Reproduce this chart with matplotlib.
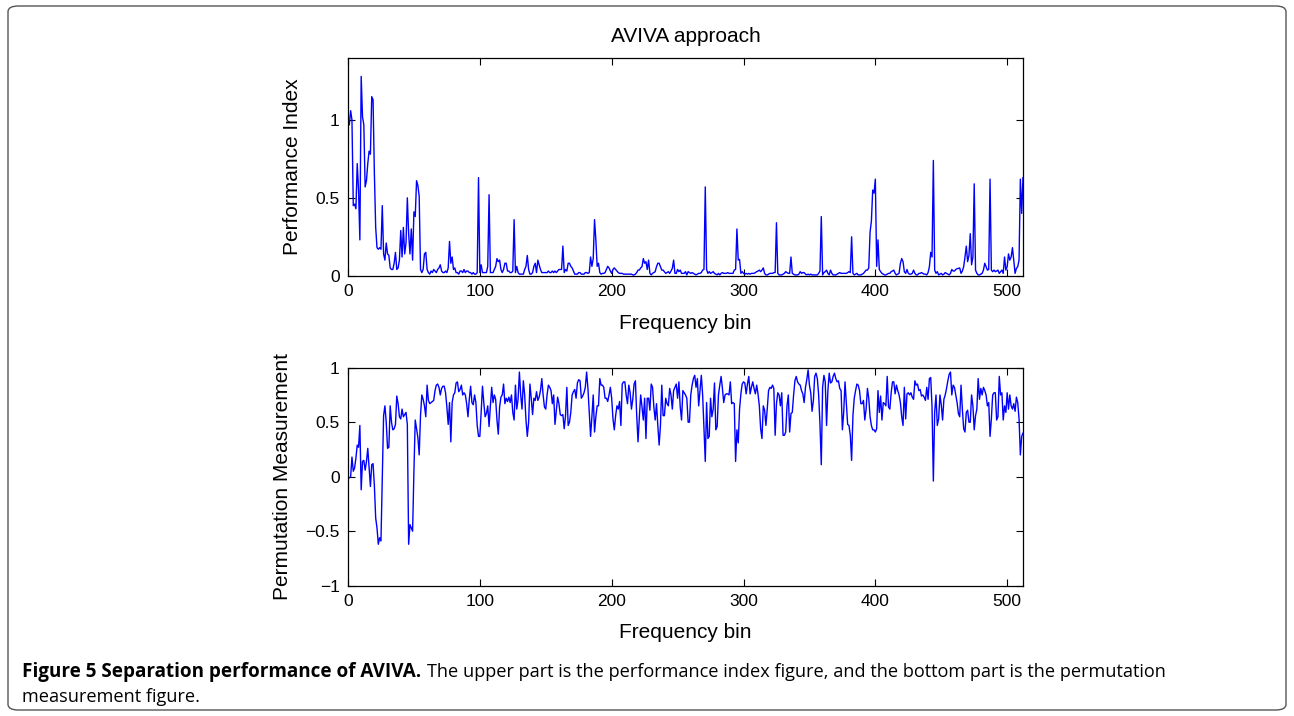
import matplotlib
matplotlib.use("Agg")
import matplotlib.pyplot as plt
from matplotlib.patches import FancyBboxPatch
import numpy as np

# Frequency bins 1..512
bins = np.arange(1, 513)

# Performance index per frequency bin
performance_index = [
    0.97, 1.06, 1.00, 0.45, 0.46, 0.43, 0.72, 0.55, 0.23, 1.28,
    1.02, 0.97, 0.57, 0.61, 0.72, 0.80, 0.78, 1.15, 1.13, 0.66,
    0.31, 0.18, 0.17, 0.18, 0.17, 0.45, 0.14, 0.10, 0.21, 0.14,
    0.13, 0.05, 0.04, 0.04, 0.08, 0.15, 0.04, 0.05, 0.10, 0.29,
    0.12, 0.31, 0.14, 0.21, 0.50, 0.27, 0.14, 0.30, 0.10, 0.41,
    0.38, 0.61, 0.58, 0.51, 0.04, 0.02, 0.04, 0.14, 0.15, 0.04,
    0.02, 0.01, 0.03, 0.02, 0.04, 0.03, 0.02, 0.04, 0.05, 0.07,
    0.03, 0.02, 0.02, 0.03, 0.02, 0.05, 0.22, 0.08, 0.12, 0.04,
    0.05, 0.02, 0.02, 0.01, 0.03, 0.03, 0.02, 0.04, 0.02, 0.03,
    0.03, 0.02, 0.02, 0.01, 0.02, 0.01, 0.01, 0.02, 0.63, 0.02,
    0.07, 0.02, 0.02, 0.02, 0.02, 0.06, 0.52, 0.02, 0.02, 0.02,
    0.04, 0.06, 0.11, 0.09, 0.10, 0.04, 0.02, 0.04, 0.08, 0.08,
    0.03, 0.03, 0.02, 0.02, 0.03, 0.36, 0.02, 0.06, 0.02, 0.01,
    0.01, 0.01, 0.01, 0.04, 0.06, 0.13, 0.04, 0.01, 0.01, 0.02,
    0.06, 0.08, 0.02, 0.10, 0.07, 0.04, 0.02, 0.02, 0.02, 0.02,
    0.02, 0.03, 0.02, 0.02, 0.03, 0.02, 0.03, 0.02, 0.03, 0.04,
    0.04, 0.04, 0.19, 0.02, 0.04, 0.03, 0.08, 0.08, 0.06, 0.05,
    0.03, 0.01, 0.01, 0.01, 0.02, 0.02, 0.01, 0.01, 0.01, 0.02,
    0.02, 0.015, 0.02, 0.12, 0.06, 0.11, 0.36, 0.23, 0.06, 0.08,
    0.02, 0.01, 0.015, 0.015, 0.02, 0.04, 0.06, 0.05, 0.03, 0.015,
    0.04, 0.05, 0.04, 0.03, 0.02, 0.015, 0.015, 0.015, 0.01, 0.01,
    0.01, 0.01, 0.01, 0.01, 0.01, 0.005, 0.005, 0.01, 0.02, 0.036,
    0.036, 0.05, 0.058, 0.11, 0.08, 0.09, 0.04, 0.10, 0.015, 0.005,
    0.015, 0.02, 0.026, 0.058, 0.08, 0.08, 0.058, 0.036, 0.036, 0.026,
    0.015, 0.02, 0.026, 0.015, 0.03, 0.047, 0.10, 0.015, 0.015, 0.04,
    0.026, 0.036, 0.015, 0.015, 0.015, 0.026, 0.005, 0.026, 0.02, 0.015,
    0.02, 0.015, 0.01, 0.005, 0.01, 0.015, 0.015, 0.02, 0.036, 0.04,
    0.57, 0.04, 0.015, 0.026, 0.015, 0.02, 0.026, 0.015, 0.01, 0.005,
    0.015, 0.005, 0.015, 0.02, 0.015, 0.015, 0.015, 0.02, 0.015, 0.015,
    0.015, 0.015, 0.036, 0.04, 0.30, 0.10, 0.105, 0.015, 0.026, 0.015,
    0.01, 0.015, 0.01, 0.015, 0.01, 0.015, 0.015, 0.015, 0.02, 0.026,
    0.03, 0.036, 0.026, 0.036, 0.05, 0.015, 0.005, 0.005, 0.01, 0.015,
    0.015, 0.015, 0.02, 0.02, 0.34, 0.015, 0.005, 0.005, 0.005, 0.01,
    0.015, 0.026, 0.02, 0.015, 0.015, 0.12, 0.015, 0.01, 0.005, 0.005,
    0.005, 0.01, 0.026, 0.015, 0.02, 0.02, 0.01, 0.005, 0.01, 0.005,
    0.01, 0.005, 0.005, 0.005, 0.005, 0.005, 0.015, 0.03, 0.38, 0.005,
    0.02, 0.026, 0.036, 0.015, 0.005, 0.036, 0.015, 0.005, 0.005, 0.005,
    0.01, 0.015, 0.02, 0.015, 0.015, 0.015, 0.015, 0.015, 0.02, 0.026,
    0.02, 0.25, 0.015, 0.005, 0.01, 0.015, 0.005, 0.005, 0.005, 0.01,
    0.015, 0.026, 0.036, 0.036, 0.05, 0.28, 0.35, 0.55, 0.53, 0.62,
    0.06, 0.23, 0.04, 0.026, 0.015, 0.01, 0.005, 0.005, 0.01, 0.015,
    0.015, 0.026, 0.03, 0.036, 0.015, 0.005, 0.01, 0.015, 0.079, 0.11,
    0.09, 0.026, 0.015, 0.04, 0.015, 0.01, 0.01, 0.015, 0.036, 0.015,
    0.005, 0.005, 0.015, 0.015, 0.02, 0.015, 0.01, 0.01, 0.005, 0.02,
    0.058, 0.15, 0.12, 0.74, 0.036, 0.015, 0.026, 0.005, 0.01, 0.015,
    0.005, 0.01, 0.02, 0.015, 0.01, 0.005, 0.015, 0.04, 0.03, 0.03,
    0.04, 0.045, 0.047, 0.05, 0.015, 0.03, 0.058, 0.12, 0.19, 0.09,
    0.13, 0.27, 0.07, 0.12, 0.59, 0.036, 0.015, 0.005, 0.005, 0.01,
    0.015, 0.036, 0.08, 0.058, 0.036, 0.04, 0.62, 0.036, 0.026, 0.036,
    0.026, 0.03, 0.036, 0.015, 0.025, 0.036, 0.015, 0.12, 0.036, 0.058,
    0.14, 0.10, 0.12, 0.18, 0.10, 0.015, 0.047, 0.058, 0.10, 0.62,
    0.40, 0.63,
]

# Permutation measurement per frequency bin
permutation_measurement = [
    -0.01, 0.00, 0.18, 0.05, 0.08, 0.17, 0.29, 0.27, 0.47, -0.12,
    0.14, 0.15, 0.06, 0.14, 0.26, 0.08, -0.09, 0.11, 0.12, -0.08,
    -0.38, -0.47, -0.62, -0.56, -0.59, -0.02, 0.56, 0.65, 0.50, 0.26,
    0.27, 0.65, 0.50, 0.43, 0.44, 0.48, 0.74, 0.67, 0.55, 0.53,
    0.62, 0.55, 0.57, 0.59, 0.48, -0.62, -0.44, -0.47, -0.50, 0.05,
    0.52, 0.44, 0.36, 0.20, 0.56, 0.75, 0.71, 0.65, 0.55, 0.84,
    0.70, 0.67, 0.68, 0.69, 0.70, 0.79, 0.84, 0.85, 0.82, 0.75,
    0.81, 0.83, 0.83, 0.77, 0.64, 0.48, 0.68, 0.32, 0.68, 0.75,
    0.77, 0.86, 0.87, 0.78, 0.80, 0.84, 0.75, 0.77, 0.75, 0.67,
    0.55, 0.71, 0.83, 0.68, 0.66, 0.75, 0.68, 0.47, 0.37, 0.37,
    0.59, 0.83, 0.68, 0.55, 0.58, 0.65, 0.46, 0.65, 0.82, 0.68,
    0.75, 0.71, 0.52, 0.39, 0.64, 0.73, 0.75, 0.85, 0.67, 0.72,
    0.69, 0.73, 0.68, 0.75, 0.59, 0.52, 0.84, 0.62, 0.71, 0.96,
    0.75, 0.62, 0.88, 0.75, 0.52, 0.37, 0.50, 0.85, 0.72, 0.57,
    0.72, 0.70, 0.78, 0.70, 0.73, 0.79, 0.90, 0.75, 0.64, 0.62,
    0.75, 0.84, 0.82, 0.79, 0.67, 0.75, 0.48, 0.61, 0.73, 0.67,
    0.57, 0.56, 0.57, 0.44, 0.56, 0.82, 0.47, 0.50, 0.59, 0.75,
    0.78, 0.80, 0.72, 0.86, 0.89, 0.88, 0.72, 0.74, 0.77, 0.82,
    0.96, 0.81, 0.59, 0.37, 0.55, 0.75, 0.41, 0.55, 0.65, 0.65,
    0.90, 0.84, 0.84, 0.82, 0.72, 0.72, 0.69, 0.75, 0.82, 0.72,
    0.53, 0.43, 0.56, 0.65, 0.62, 0.69, 0.47, 0.85, 0.87, 0.87,
    0.75, 0.67, 0.84, 0.77, 0.62, 0.71, 0.85, 0.88, 0.56, 0.32,
    0.55, 0.75, 0.64, 0.52, 0.72, 0.35, 0.72, 0.72, 0.61, 0.85,
    0.82, 0.64, 0.52, 0.67, 0.47, 0.29, 0.47, 0.84, 0.56, 0.56,
    0.72, 0.67, 0.65, 0.81, 0.75, 0.62, 0.79, 0.82, 0.85, 0.72,
    0.87, 0.64, 0.52, 0.79, 0.77, 0.75, 0.72, 0.50, 0.50, 0.75,
    0.84, 0.90, 0.93, 0.82, 0.90, 0.65, 0.79, 0.93, 0.75, 0.44,
    0.14, 0.68, 0.35, 0.37, 0.72, 0.55, 0.62, 0.86, 0.43, 0.46,
    0.75, 0.84, 0.92, 0.81, 0.68, 0.75, 0.76, 0.76, 0.75, 0.87,
    0.67, 0.68, 0.67, 0.14, 0.43, 0.31, 0.62, 0.76, 0.85, 0.87,
    0.86, 0.76, 0.85, 0.92, 0.76, 0.82, 0.87, 0.81, 0.76, 0.84,
    0.76, 0.65, 0.44, 0.35, 0.65, 0.61, 0.47, 0.62, 0.79, 0.82,
    0.81, 0.84, 0.81, 0.38, 0.67, 0.77, 0.75, 0.65, 0.77, 0.38,
    0.38, 0.41, 0.65, 0.75, 0.41, 0.58, 0.59, 0.75, 0.88, 0.92,
    0.87, 0.85, 0.84, 0.79, 0.76, 0.68, 0.82, 0.89, 0.98, 0.84,
    0.77, 0.60, 0.70, 0.92, 0.95, 0.90, 0.75, 0.48, 0.11, 0.82,
    0.93, 0.87, 0.47, 0.79, 0.95, 0.86, 0.87, 0.92, 0.95, 0.90,
    0.87, 0.88, 0.81, 0.79, 0.43, 0.59, 0.87, 0.68, 0.48, 0.47,
    0.38, 0.15, 0.56, 0.72, 0.79, 0.85, 0.84, 0.79, 0.67, 0.67,
    0.70, 0.52, 0.62, 0.81, 0.72, 0.55, 0.47, 0.43, 0.43, 0.41,
    0.44, 0.79, 0.59, 0.74, 0.52, 0.68, 0.67, 0.65, 0.92, 0.64,
    0.62, 0.77, 0.87, 0.87, 0.76, 0.84, 0.79, 0.75, 0.68, 0.55,
    0.47, 0.82, 0.53, 0.76, 0.77, 0.75, 0.77, 0.73, 0.71, 0.88,
    0.84, 0.85, 0.79, 0.80, 0.74, 0.75, 0.73, 0.70, 0.82, 0.71,
    0.90, 0.91, 0.64, -0.04, 0.59, 0.75, 0.47, 0.53, 0.75, 0.66,
    0.52, 0.71, 0.75, 0.81, 0.88, 0.94, 0.96, 0.75, 0.84, 0.82,
    0.75, 0.68, 0.58, 0.55, 0.84, 0.62, 0.44, 0.41, 0.59, 0.61,
    0.50, 0.50, 0.75, 0.65, 0.43, 0.56, 0.62, 0.90, 0.71, 0.81,
    0.75, 0.82, 0.79, 0.75, 0.65, 0.68, 0.37, 0.53, 0.75, 0.77,
    0.77, 0.52, 0.55, 0.92, 0.75, 0.77, 0.52, 0.65, 0.59, 0.77,
    0.62, 0.75, 0.65, 0.62, 0.67, 0.60, 0.73, 0.68, 0.53, 0.20,
    0.37, 0.40,
]

x_ticks = [0, 100, 200, 300, 400, 500]
x_tick_labels = ["0", "100", "200", "300", "400", "500"]
top_y_ticks = [0, 0.5, 1]
top_y_tick_labels = ["0", "0.5", "1"]
bottom_y_ticks = [-1, -0.5, 0, 0.5, 1]
bottom_y_tick_labels = ["\u22121", "\u22120.5", "0", "0.5", "1"]

title_text = "AVIVA approach"
x_label = "Frequency bin"
top_y_label = "Performance Index"
bottom_y_label = "Permutation Measurement"
caption_bold = "Figure 5 Separation performance of AVIVA."
caption_line1 = "The upper part is the performance index figure, and the bottom part is the permutation"
caption_line2 = "measurement figure."

plt.rcParams["font.family"] = ["Liberation Sans", "DejaVu Sans"]

W, H = 1294, 716
fig = plt.figure(figsize=(W / 100, H / 100), dpi=100)
fig.patch.set_facecolor("white")

LABEL_SIZE = 15


def px_axes(left, top, right, bottom):
    return fig.add_axes([left / W, 1 - bottom / H, (right - left) / W, (bottom - top) / H])


def style_axes(ax):
    for s in ax.spines.values():
        s.set_linewidth(0.9)
        s.set_color("black")
    ax.tick_params(direction="in", top=True, right=True, length=5, width=0.8,
                   labelsize=12.5, pad=6, colors="black")


ax1 = px_axes(348, 57.7, 1023, 275.7)
ax1.plot(bins, performance_index, color="#0000ff", lw=1.0)
ax1.set_xlim(0, 512)
ax1.set_ylim(0, 1.4)
ax1.set_xticks(x_ticks)
ax1.set_xticklabels(x_tick_labels)
ax1.set_yticks(top_y_ticks)
ax1.set_yticklabels(top_y_tick_labels)
style_axes(ax1)
ax1.set_title(title_text, fontsize=LABEL_SIZE, pad=11.5)
ax1.set_xlabel(x_label, fontsize=LABEL_SIZE)
ax1.set_ylabel(top_y_label, fontsize=LABEL_SIZE)
ax1.xaxis.label.set_va("center")
ax1.yaxis.label.set_va("center")
ax1.xaxis.set_label_coords(0.5, (275.7 - 323) / 218)
ax1.yaxis.set_label_coords((293 - 348) / 675, 0.5)

ax2 = px_axes(348, 367.7, 1023, 585.7)
ax2.plot(bins, permutation_measurement, color="#0000ff", lw=1.0)
ax2.set_xlim(0, 512)
ax2.set_ylim(-1, 1)
ax2.set_xticks(x_ticks)
ax2.set_xticklabels(x_tick_labels)
ax2.set_yticks(bottom_y_ticks)
ax2.set_yticklabels(bottom_y_tick_labels)
style_axes(ax2)
ax2.set_xlabel(x_label, fontsize=LABEL_SIZE)
ax2.set_ylabel(bottom_y_label, fontsize=LABEL_SIZE)
ax2.xaxis.label.set_va("center")
ax2.yaxis.label.set_va("center")
ax2.xaxis.set_label_coords(0.5, (585.7 - 632) / 218)
ax2.yaxis.set_label_coords((282 - 348) / 675, 0.5)

# Rounded frame around the figure panel
frame = FancyBboxPatch((8 / W, 6 / H), (1286 - 8) / W, (710 - 6) / H,
                       boxstyle="round,pad=0,rounding_size=0.008",
                       transform=fig.transFigure, facecolor="none",
                       edgecolor="#555555", linewidth=1.0)
fig.patches.append(frame)

# Caption: bold lead-in followed by regular text
cap_font = ["Open Sans", "DejaVu Sans"]
t_bold = fig.text(22 / W, 1 - 677 / H, caption_bold, fontsize=13.6, fontweight="bold",
                  family=cap_font, va="baseline", ha="left")
fig.canvas.draw()
bb = t_bold.get_window_extent()
fig.text((bb.x1 + 6) / W, 1 - 677 / H, caption_line1, fontsize=13.1,
         family=cap_font, va="baseline", ha="left")
fig.text(22 / W, 1 - 702 / H, caption_line2, fontsize=13.1,
         family=cap_font, va="baseline", ha="left")

fig.savefig("out.png", dpi=100, facecolor="white")
